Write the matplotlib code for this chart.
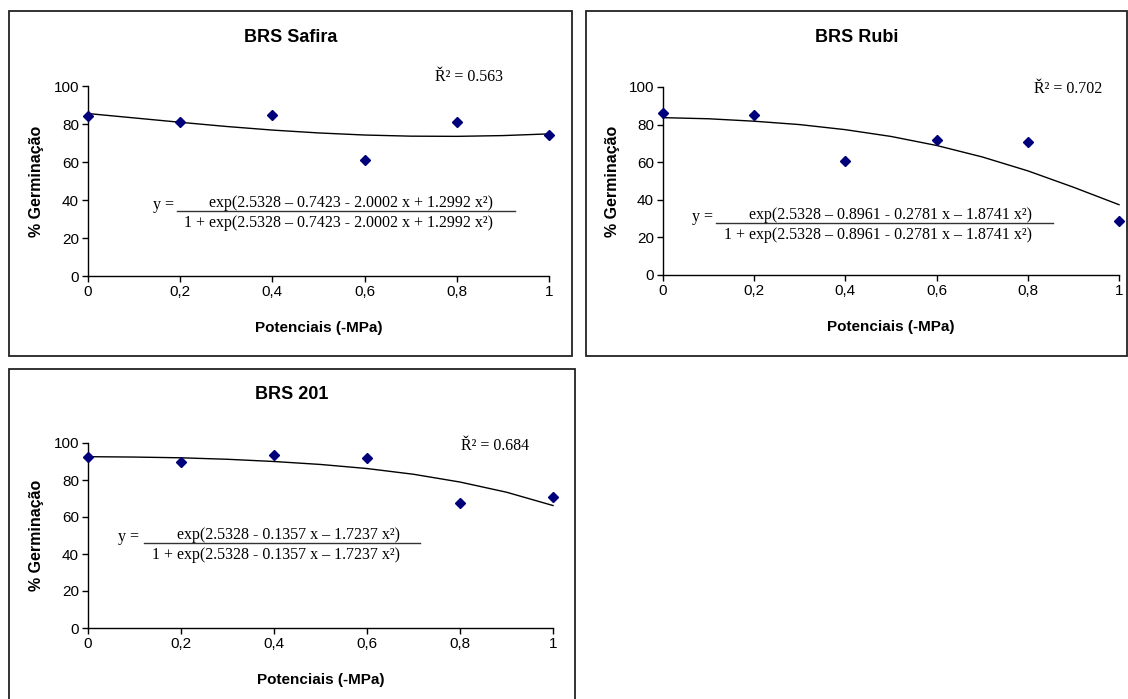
"""
Germination (%) vs water potential for three cultivars, with logistic fits.
"""

import numpy as np
import matplotlib
matplotlib.use('Agg')
import matplotlib.pyplot as plt
from matplotlib.patches import Rectangle
from matplotlib.lines import Line2D

W, H = 1128, 699

# observed points
potenciais = [0, 0.2, 0.4, 0.6, 0.8, 1.0]
safira_obs = [84, 81, 85, 61, 81, 74]
rubi_obs = [86, 85, 60.5, 72, 71, 28.5]
brs201_obs = [92.5, 89.5, 93.5, 92, 67.5, 71]

# fitted curves
curve_x = [0, 0.1, 0.2, 0.3, 0.4, 0.5, 0.6, 0.7, 0.8, 0.9, 1.0]
safira_fit = [85.5, 83.2, 80.9, 78.7, 76.8, 75.3, 74.2, 73.6, 73.5, 73.9, 74.8]
rubi_fit = [83.7, 83.1, 81.8, 80.0, 77.3, 73.7, 68.9, 62.8, 55.4, 46.7, 37.4]
brs201_fit = [92.6, 92.4, 92.0, 91.2, 90.0, 88.4, 86.2, 83.1, 78.9, 73.4, 66.2]

x_ticks = [0, 0.2, 0.4, 0.6, 0.8, 1.0]
x_tick_labels = ['0', '0,2', '0,4', '0,6', '0,8', '1']
y_ticks = [0, 20, 40, 60, 80, 100]

titles = ['BRS Safira', 'BRS Rubi', 'BRS 201']
r2_labels = ['Ř² = 0.563', 'Ř² = 0.702', 'Ř² = 0.684']
numerators = [
    'exp(2.5328 – 0.7423 - 2.0002 x + 1.2992 x²)',
    'exp(2.5328 – 0.8961 - 0.2781 x – 1.8741 x²)',
    'exp(2.5328 - 0.1357 x – 1.7237 x²)',
]
denominators = ['1 + ' + n for n in numerators]

SANS = 'Liberation Sans'
SERIF = 'Liberation Serif'


def fx(px):
    return px / W


def fy(py):
    return 1 - py / H


def draw_panel(fig, box, axbox, title, title_y, xs, ys, cx, cy,
               r2, r2_pos, num, den, eq):
    # panel frame
    bx0, by0, bx1, by1 = box
    fig.add_artist(Rectangle((fx(bx0), fy(by1)), fx(bx1 - bx0), (by1 - by0) / H,
                             transform=fig.transFigure, fill=False,
                             edgecolor='#222222', linewidth=1.3))

    x0, y0, x1, y1 = axbox
    ax = fig.add_axes([fx(x0), fy(y1), fx(x1 - x0), (y1 - y0) / H])
    ax.plot(cx, cy, color='black', linewidth=1.0, clip_on=False)
    ax.plot(xs, ys, linestyle='none', marker='D', markersize=5.5,
            color='#00007a', clip_on=False, zorder=3)
    ax.set_xlim(0, 1)
    ax.set_ylim(0, 100)
    ax.set_xticks(x_ticks)
    ax.set_xticklabels(x_tick_labels)
    ax.set_yticks(y_ticks)
    for side in ['top', 'right']:
        ax.spines[side].set_visible(False)
    for side in ['left', 'bottom']:
        ax.spines[side].set_linewidth(1.0)
    ax.tick_params(direction='out', length=4, width=1.0, labelsize=11)
    ax.tick_params(axis='x', pad=2.5)
    ax.tick_params(axis='y', pad=2.5)
    for lbl in ax.get_xticklabels() + ax.get_yticklabels():
        lbl.set_fontfamily(SANS)

    # titles and axis labels
    fig.text(fx((bx0 + bx1) / 2), fy(title_y), title, ha='center', va='center',
             fontsize=13, fontweight='bold', family=SANS)
    fig.text(fx((x0 + x1) / 2), fy(y1 + 52), 'Potenciais (-MPa)', ha='center',
             va='center', fontsize=11, fontweight='bold', family=SANS)
    fig.text(fx(x0 - 51), fy((y0 + y1) / 2), '% Germinação', ha='center',
             va='center', rotation=90, fontsize=11.5, fontweight='bold', family=SANS)

    # R^2 and equation
    fig.text(fx(r2_pos[0]), fy(r2_pos[1]), r2, ha='left', va='center',
             fontsize=11.5, family=SERIF)
    yeq_right, line_x0, line_x1, line_y, text_right = eq
    fig.text(fx(yeq_right), fy(line_y - 6), 'y =', ha='right', va='center',
             fontsize=11.5, family=SERIF)
    fig.text(fx(text_right), fy(line_y - 8), num, ha='right', va='center',
             fontsize=11.5, family=SERIF)
    fig.text(fx(text_right), fy(line_y + 12), den, ha='right', va='center',
             fontsize=11.5, family=SERIF)
    fig.add_artist(Line2D([fx(line_x0), fx(line_x1)], [fy(line_y), fy(line_y)],
                          transform=fig.transFigure, color='#333333', linewidth=1.0))
    return ax


fig = plt.figure(figsize=(W / 100, H / 100), dpi=100)
fig.patch.set_facecolor('white')

draw_panel(fig, (9, 11, 572, 356), (88, 86, 549, 276), titles[0], 37,
           potenciais, safira_obs, curve_x, safira_fit,
           r2_labels[0], (435, 77), numerators[0], denominators[0],
           (174, 177, 515, 211, 493))

draw_panel(fig, (586, 11, 1127, 356), (663, 87, 1119, 275), titles[1], 37,
           potenciais, rubi_obs, curve_x, rubi_fit,
           r2_labels[1], (1034, 89), numerators[1], denominators[1],
           (713, 716, 1053, 223, 1032))

draw_panel(fig, (9, 369, 575, 710), (88, 443, 553, 628), titles[2], 395,
           potenciais, brs201_obs, curve_x, brs201_fit,
           r2_labels[2], (461, 446), numerators[2], denominators[2],
           (139, 144, 420, 543, 400))

plt.savefig('out.png', dpi=100, facecolor='white')
plt.close()
